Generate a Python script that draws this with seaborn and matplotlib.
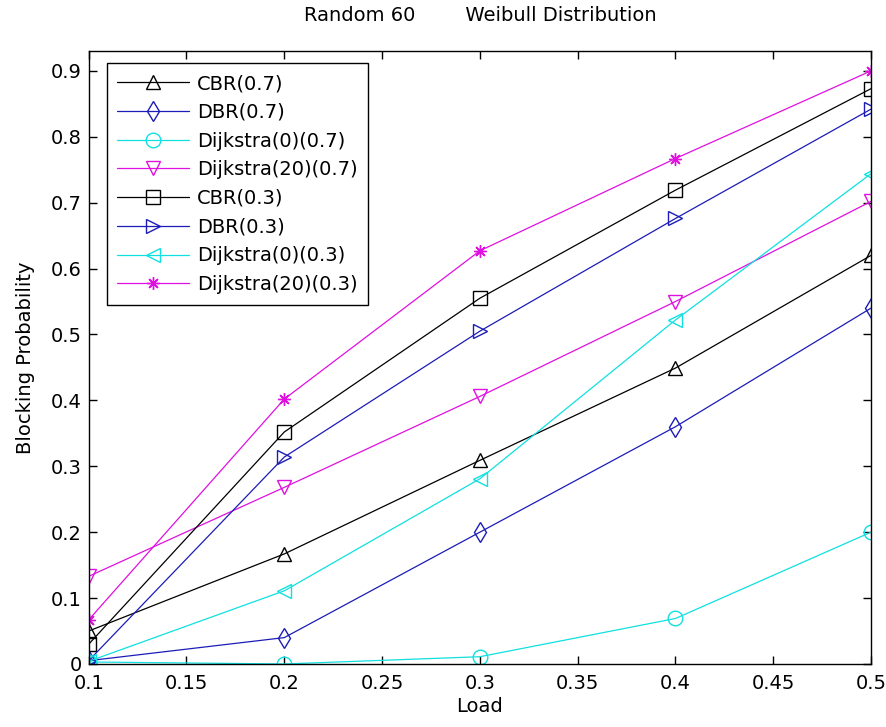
import matplotlib
matplotlib.use("Agg")
import matplotlib.pyplot as plt
import seaborn as sns
import pandas as pd

load = [0.1, 0.2, 0.3, 0.4, 0.5]

cbr_07 = [0.050, 0.167, 0.309, 0.449, 0.620]
dbr_07 = [0.005, 0.040, 0.200, 0.360, 0.540]
dij0_07 = [0.003, 0.000, 0.011, 0.069, 0.200]
dij20_07 = [0.133, 0.268, 0.406, 0.550, 0.702]
cbr_03 = [0.030, 0.352, 0.555, 0.719, 0.873]
dbr_03 = [0.005, 0.314, 0.505, 0.676, 0.842]
dij0_03 = [0.004, 0.111, 0.281, 0.522, 0.744]
dij20_03 = [0.067, 0.402, 0.627, 0.767, 0.900]

labels = ['CBR(0.7)', 'DBR(0.7)', 'Dijkstra(0)(0.7)', 'Dijkstra(20)(0.7)',
          'CBR(0.3)', 'DBR(0.3)', 'Dijkstra(0)(0.3)', 'Dijkstra(20)(0.3)']
series = [cbr_07, dbr_07, dij0_07, dij20_07, cbr_03, dbr_03, dij0_03, dij20_03]

colors = ['black', '#1c1cb8', '#10e0e0', '#e010e0',
          'black', '#1c1cb8', '#10e0e0', '#e010e0']
markers = ['^', 'd', 'o', 'v', 's', '>', '<', (8, 2, 0)]

sns.set_style("white")
plt.rcParams['font.family'] = ['DejaVu Sans']
plt.rcParams['text.color'] = 'black'
plt.rcParams['axes.labelcolor'] = 'black'
plt.rcParams['xtick.color'] = 'black'
plt.rcParams['ytick.color'] = 'black'

fig = plt.figure(figsize=(8.87, 7.27), dpi=100)
ax = fig.add_axes([0.100, 0.0867, 0.882, 0.843])

for lab, vals, c, m in zip(labels, series, colors, markers):
    df = pd.DataFrame({'Load': load, 'Blocking Probability': vals})
    sns.lineplot(data=df, x='Load', y='Blocking Probability', ax=ax,
                 color=c, marker=m, markersize=9 if m == (8, 2, 0) else 10.5,
                 mfc='none', mec=c, mew=1.0,
                 linewidth=0.9, label=lab)

ax.set_xlim(0.1, 0.5)
ax.set_ylim(0, 0.93)
ax.set_xticks([0.1, 0.15, 0.2, 0.25, 0.3, 0.35, 0.4, 0.45, 0.5])
ax.set_xticklabels(['0.1', '0.15', '0.2', '0.25', '0.3', '0.35', '0.4', '0.45', '0.5'])
ax.set_yticks([0, 0.1, 0.2, 0.3, 0.4, 0.5, 0.6, 0.7, 0.8, 0.9])
ax.set_yticklabels(['0', '0.1', '0.2', '0.3', '0.4', '0.5', '0.6', '0.7', '0.8', '0.9'])
ax.tick_params(axis='both', direction='in', length=6, width=1, labelsize=14,
               top=True, right=True, bottom=True, left=True)
ax.tick_params(axis='x', pad=7)
ax.tick_params(axis='y', pad=5)
for sp in ax.spines.values():
    sp.set_color('black')
    sp.set_linewidth(1.0)

ax.set_xlabel('Load', fontsize=14, labelpad=3)
ax.set_ylabel('Blocking Probability', fontsize=14, labelpad=11)
ax.set_title('Random 60        Weibull Distribution', fontsize=14, pad=22)

leg = ax.legend(loc='upper left', fontsize=14, handlelength=3.7,
                borderpad=0.55, labelspacing=0.5, handletextpad=0.4,
                borderaxespad=0, fancybox=False, framealpha=1,
                edgecolor='black', bbox_to_anchor=(0.023, 0.980))
leg.get_frame().set_linewidth(1.0)

fig.savefig('out.png', dpi=100)
